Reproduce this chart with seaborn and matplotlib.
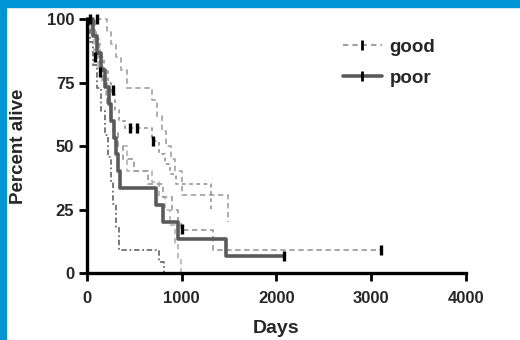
import matplotlib
matplotlib.use("Agg")
import matplotlib.pyplot as plt
from matplotlib.lines import Line2D
from matplotlib.patches import Rectangle
import seaborn as sns
import pandas as pd

# ---- data ----
poor_t = [0, 60, 110, 150, 190, 230, 260, 290, 310, 330, 345, 725, 800, 960, 1470, 2085]
poor_s = [100, 93.3, 86.7, 80, 73.3, 66.7, 60, 53.3, 46.7, 40, 33.3, 26.7, 20, 13.3, 6.7, 6.7]

good1_t = [0, 30, 70, 110, 150, 190, 220, 250, 280, 310, 340, 760, 810]
good1_s = [100, 90.9, 81.8, 72.7, 63.6, 54.5, 45.5, 36.4, 27.3, 18.2, 9.1, 4.5, 0]

good2_t = [0, 210, 260, 310, 360, 425, 690, 740, 790, 840, 890, 935, 1000, 1490]
good2_s = [100, 95, 90, 85, 80, 73, 68, 62, 56, 50, 45, 40, 30.7, 20]

good3_t = [0, 60, 100, 140, 180, 220, 260, 300, 340, 405, 690, 760, 820, 880, 940, 1310]
good3_s = [100, 95, 90, 85, 80, 75, 70, 64, 60, 57, 52, 47, 43, 39, 35, 24]

good4_t = [0, 40, 80, 120, 160, 200, 240, 280, 330, 425, 690, 760, 820, 880, 930, 960, 990]
good4_s = [100, 94, 88, 81, 75, 69, 62, 56, 50, 40, 36, 30, 25, 19, 12, 6, 0]

good5_t = [0, 90, 130, 170, 210, 250, 290, 330, 380, 500, 650, 800, 900, 960, 990, 1330, 3100]
good5_s = [100, 92, 83, 75, 67, 60, 55, 50, 45, 40, 35, 30, 25, 20, 17, 9, 9]

censor_t = [30, 105, 84, 137, 274, 460, 530, 700, 1000, 2085, 3100]
censor_s = [100, 100, 85, 79, 72, 57, 57, 52, 17.5, 6.7, 9]

x_ticks = [0, 1000, 2000, 3000, 4000]
y_ticks = [0, 25, 50, 75, 100]
legend_labels = ["good", "poor"]

# ---- plotting ----
sns.set_style("ticks")
plt.rcParams['font.family'] = ['Liberation Sans', 'DejaVu Sans']

fig = plt.figure(figsize=(5.2, 3.4), dpi=100)
ax = fig.add_axes([0.167, 0.197, 0.729, 0.747])

good_styles = [
    (good1_t, good1_s, "#6e6e6e", (0, (3, 1.5, 1, 1.5))),
    (good2_t, good2_s, "#a8a8a8", (0, (3, 2))),
    (good3_t, good3_s, "#9a9a9a", (0, (2, 2))),
    (good4_t, good4_s, "#b8b8b8", (0, (3, 2))),
    (good5_t, good5_s, "#a0a0a0", (0, (3, 2))),
]
for t, s, c, ls in good_styles:
    df = pd.DataFrame({"t": t, "s": s})
    sns.lineplot(data=df, x="t", y="s", ax=ax, estimator=None, sort=False,
                 drawstyle="steps-post", color=c, linestyle=ls, linewidth=1.3,
                 clip_on=False)

dfp = pd.DataFrame({"t": poor_t, "s": poor_s})
sns.lineplot(data=dfp, x="t", y="s", ax=ax, estimator=None, sort=False,
             drawstyle="steps-post", color="#5a5a5a", linewidth=2.6,
             clip_on=False)

dfc = pd.DataFrame({"t": censor_t, "s": censor_s})
sns.scatterplot(data=dfc, x="t", y="s", ax=ax, marker="|", s=45,
                color="black", linewidth=2.4, clip_on=False, zorder=5)

ax.set_xlim(0, 4000)
ax.set_ylim(0, 100)
ax.set_xticks(x_ticks)
ax.set_yticks(y_ticks)
ax.set_xticklabels([str(v) for v in x_ticks], fontsize=12, fontweight="bold")
ax.set_yticklabels([str(v) for v in y_ticks], fontsize=12, fontweight="bold")
ax.set_xlabel("Days", fontsize=14, fontweight="bold", labelpad=10)
ax.set_ylabel("Percent alive", fontsize=13.5, fontweight="bold", labelpad=14)

for side in ["top", "right"]:
    ax.spines[side].set_visible(False)
for side in ["left", "bottom"]:
    ax.spines[side].set_linewidth(2.4)
    ax.spines[side].set_color("black")
ax.tick_params(axis="both", direction="out", length=6, width=2, color="black")
ax.tick_params(axis="x", pad=7)
ax.tick_params(axis="y", pad=3)

handles = [
    Line2D([], [], color="#a0a0a0", linestyle=(0, (2.5, 2)), linewidth=1.5,
           marker="|", markeredgecolor="black", markersize=7, markeredgewidth=2),
    Line2D([], [], color="#5a5a5a", linewidth=2.6,
           marker="|", markeredgecolor="black", markersize=7, markeredgewidth=2),
]
ax.legend(handles, legend_labels, loc="upper left", bbox_to_anchor=(0.64, 0.975),
          frameon=False, numpoints=1, handlelength=2.1, handletextpad=0.4,
          labelspacing=0.75, borderpad=0.2,
          prop={"weight": "bold", "size": 13.5})

# blue frame (left and top strips)
fig.patches.append(Rectangle((0, 0), 6 / 520, 1, transform=fig.transFigure,
                             color="#0096d6", zorder=10))
fig.patches.append(Rectangle((0, 1 - 7 / 340), 1, 7 / 340, transform=fig.transFigure,
                             color="#0096d6", zorder=10))

fig.savefig("out.png", dpi=100)
